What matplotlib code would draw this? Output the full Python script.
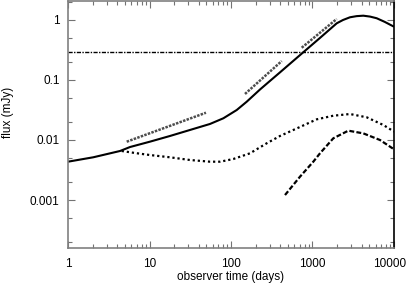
import matplotlib
matplotlib.use("Agg")
import matplotlib.pyplot as plt
from matplotlib.ticker import LogLocator, FixedLocator, FixedFormatter, NullFormatter
from matplotlib.transforms import ScaledTranslation

plt.rcParams['font.family'] = ['Liberation Sans', 'DejaVu Sans']

# total flux (solid)
t_total = [1, 2.04, 4.35, 5.77, 10.1, 17.8, 31.4, 55.2, 80.5, 117.5, 156, 227, 301, 399,
           530, 771, 1236, 1982, 2366, 2884, 3483, 4200, 5080, 6130, 7700, 10000]
f_total = [0.00435, 0.00515, 0.00656, 0.00764, 0.00937, 0.01166, 0.0147, 0.0185, 0.0230,
           0.0316, 0.0435, 0.0695, 0.0966, 0.134, 0.187, 0.290, 0.503, 0.881, 1.0, 1.11,
           1.16, 1.18, 1.14, 1.07, 0.93, 0.773]

# dotted component
t_dot = [4.56, 6.64, 10.1, 17.8, 31.4, 55.2, 73.7, 106.7, 171, 274, 399, 703, 1127, 1800,
         2884, 4624, 7390, 10000]
f_dot = [0.00656, 0.00607, 0.00562, 0.00515, 0.00464, 0.00435, 0.00435, 0.00482, 0.0060,
         0.00881, 0.01166, 0.0165, 0.0221, 0.0254, 0.0271, 0.0239, 0.0178, 0.0138]

# dashed component
t_dash = [460, 703, 1023, 1236, 1800, 2750, 4200, 6730, 10000]
f_dash = [0.00121, 0.00245, 0.00435, 0.0060, 0.01067, 0.0143, 0.0129, 0.0100, 0.0070]

# horizontal level
t_level = [1, 10000]
f_level = [0.29, 0.29]

# slope indicator segments
seg1_t = [5.25, 49.3]
seg1_f = [0.00937, 0.0285]
seg2_t = [148.5, 419]
seg2_f = [0.0585, 0.207]
seg3_t = [737, 1982]
seg3_f = [0.345, 1.04]

y_ticks = [0.001, 0.01, 0.1, 1]
y_ticklabels = ['0.001', '0.01', '0.1', '1']
x_ticks = [1, 10, 100, 1000, 10000]
x_ticklabels = ['1', '10', '100', '1000', '10000']

W, H = 407, 285
fig = plt.figure(figsize=(W / 100, H / 100), dpi=100)
ax = fig.add_axes([68 / W, 1 - 248 / H, (394 - 68) / W, (248 - 1) / H])
ax.set_xscale('log')
ax.set_yscale('log')

ax.plot(t_level, f_level, color='black', lw=1.0, linestyle=(0, (3, 1, 1, 1)))
for st, sf in [(seg1_t, seg1_f), (seg2_t, seg2_f), (seg3_t, seg3_f)]:
    ax.plot(st, sf, color='0.3', lw=1.8, linestyle=(0, (1, 0.5)))
ax.plot(t_dot, f_dot, color='black', lw=1.6, linestyle=(0, (1, 1.3)))
ax.plot(t_dash, f_dash, color='black', lw=1.6, linestyle=(0, (2.2, 1)))
ax.plot(t_total, f_total, color='black', lw=1.5, solid_capstyle='butt')

ax.set_xlim(1, 10000)
ax.set_ylim(10 ** (-3.8), 10 ** (19 / 60))

ax.xaxis.set_major_locator(FixedLocator(x_ticks))
ax.xaxis.set_major_formatter(FixedFormatter(x_ticklabels))
ax.xaxis.set_minor_locator(LogLocator(base=10, subs=range(2, 10)))
ax.xaxis.set_minor_formatter(NullFormatter())
ax.yaxis.set_major_locator(FixedLocator(y_ticks))
ax.yaxis.set_major_formatter(FixedFormatter(y_ticklabels))
ax.yaxis.set_minor_locator(LogLocator(base=10, subs=(2, 5)))
ax.yaxis.set_minor_formatter(NullFormatter())

ax.tick_params(which='both', direction='in', top=True, right=True, color='0.45',
               labelsize=8.5, labelcolor='black')
ax.tick_params(which='major', length=5, width=0.8)
ax.tick_params(which='minor', length=3, width=0.8)
ax.tick_params(axis='x', which='major', pad=7)
ax.tick_params(axis='y', which='major', pad=6)

for side in ['left', 'bottom', 'top']:
    ax.spines[side].set_color('0.5')
    ax.spines[side].set_linewidth(1.2)
ax.spines['right'].set_color('black')
ax.spines['right'].set_linewidth(1.2)

ax.set_xlabel('observer time (days)', fontsize=8.5, labelpad=1)
ax.set_ylabel('flux (mJy)', fontsize=8.5)
ax.yaxis.set_label_coords(-54 / 326, 0.55)

fig.canvas.draw()
last = ax.xaxis.get_major_ticks()[-1].label1
last.set_transform(last.get_transform() + ScaledTranslation(-4 / 100, 0, fig.dpi_scale_trans))

fig.savefig('out.png', dpi=100)
